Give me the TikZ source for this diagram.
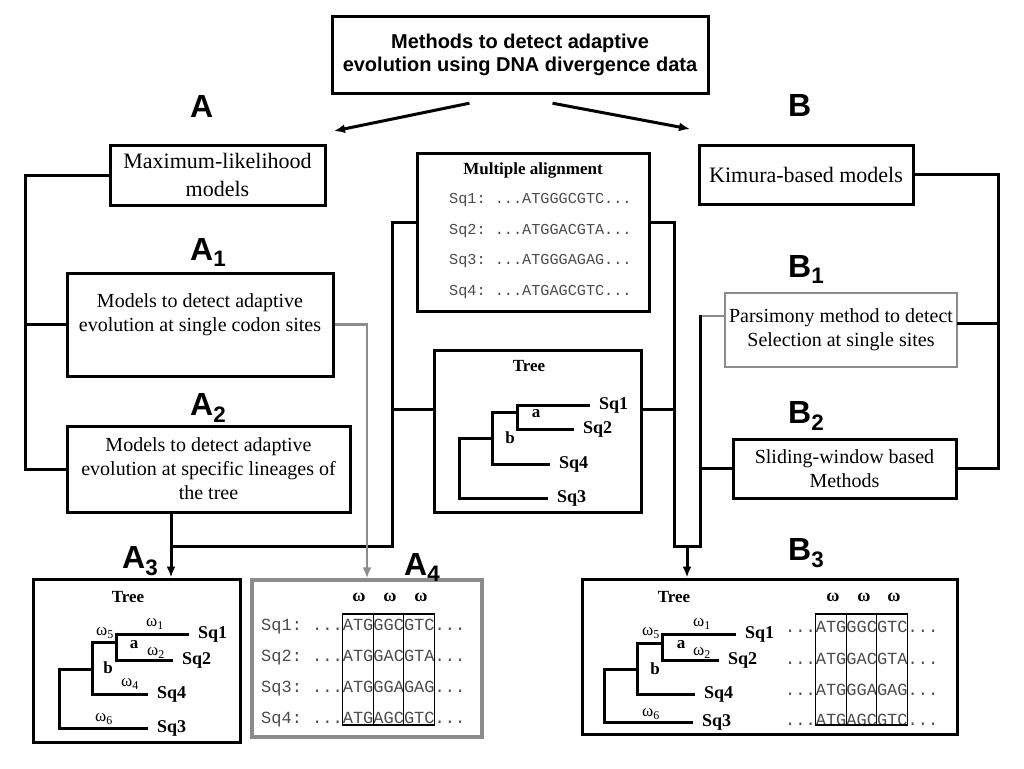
\documentclass[tikz,border=0pt]{standalone}
\usepackage{fontspec}
\setmainfont{Liberation Serif}
\setsansfont{Liberation Sans}
\setmonofont{Liberation Mono}
\usetikzlibrary{positioning,arrows.meta}

\begin{document}
\begin{tikzpicture}[x=1pt, y=-1pt, >={Latex[length=11pt,width=9pt]},
        boxed/.style={draw, line width=3pt, align=center, inner sep=2pt, font=\fontsize{20}{24}\selectfont},
        grayboxed/.style={boxed, draw=black!45},
        letter/.style={inner sep=0pt, anchor=base west, font=\sffamily\bfseries\fontsize{32}{32}\selectfont},
        wire/.style={line width=3pt, line cap=rect},
        graywire/.style={line width=2.5pt, draw=black!45},
        seq/.style={inner sep=0pt, anchor=west, text=black!70, font=\ttfamily\fontsize{17}{17}\selectfont},
        smallseq/.style={seq, font=\ttfamily\fontsize{15.2}{15.2}\selectfont},
        leaf/.style={inner sep=0pt, outer sep=9pt, anchor=west, font=\bfseries\fontsize{18}{18}\selectfont},
        twig/.style={line width=3pt},
        omlabel/.style={inner sep=0pt, font=\fontsize{17}{17}\selectfont},
        treetitle/.style={inner sep=0pt, font=\bfseries\fontsize{17}{17}\selectfont},
        codon/.style={draw, line width=1.2pt}]
        \path[fill=white, use as bounding box] (0,0) rectangle (1024,768);

        % top of the chart
        \node[boxed, font=\sffamily\bfseries\fontsize{20}{23}\selectfont, minimum width=376, minimum height=76] (title) at (520,55) {Methods to detect adaptive\\evolution using DNA divergence data};
        \node[letter] (la) at (190,117) {A};
        \node[letter] (lb) at (788,116) {B};
        \coordinate (ta) at (334,131);
        \coordinate (tb) at (690,129);
        \draw[wire, ->] ([shift={(-52,9)}]title.south) -- (ta);
        \draw[wire, ->] ([shift={(34,9)}]title.south) -- (tb);

        % left branch
        \node[boxed, font=\fontsize{22}{28}\selectfont, minimum width=215, minimum height=60] (ml) at (217.5,175) {Maximum-likelihood\\models};
        \node[letter] (la1) at (190,260) {A\textsubscript{1}};
        \node[boxed, minimum width=266, minimum height=103] (a1) at (200,324.5) {Models to detect adaptive\\evolution at single codon sites\\~};
        \node[letter] (la2) at (190,415) {A\textsubscript{2}};
        \node[boxed, minimum width=283, minimum height=86] (a2) at (208.5,469) {Models to detect adaptive\\evolution at specific lineages of\\the tree};

        % right branch
        \node[boxed, font=\fontsize{22}{28}\selectfont, minimum width=214, minimum height=59] (kim) at (806,174.5) {Kimura-based models};
        \node[letter] (lb1) at (788,277) {B\textsubscript{1}};
        \node[grayboxed, line width=2.5pt, minimum width=232, minimum height=74] (b1) at (841,330) {Parsimony method to detect\\Selection at single sites};
        \node[letter] (lb2) at (788,423) {B\textsubscript{2}};
        \node[boxed, minimum width=223, minimum height=59] (b2) at (844.5,468.5) {Sliding-window based\\Methods};

        % the data in the middle
        \node[boxed, minimum width=232, minimum height=158] (align) at (533,232) {};
        \node[inner sep=0pt, font=\bfseries\fontsize{17}{17}\selectfont] (aligntitle) at (533,170) {Multiple alignment};
        \node[smallseq] (m1) at (449,200) {Sq1: ...ATGGGCGTC...};
        \node[smallseq] (m2) at (449,231) {Sq2: ...ATGGACGTA...};
        \node[smallseq] (m3) at (449,261) {Sq3: ...ATGGGAGAG...};
        \node[smallseq] (m4) at (449,292) {Sq4: ...ATGAGCGTC...};

        \node[boxed, minimum width=207, minimum height=162] (ctree) at (537.5,431) {};
        \node[treetitle] (ctitle) at (529,366) {Tree};
        \node[leaf] (cs1) at (590,405) {Sq1};
        \node[leaf] (cs2) at (574,429) {Sq2};
        \node[leaf] (cs4) at (550,464) {Sq4};
        \node[leaf] (cs3) at (548,498) {Sq3};
        \coordinate (ca) at (517,412);
        \coordinate (cb) at (492,438);
        \coordinate (co) at (459,438);
        \draw[twig] (cs1.west) -| (cs2.west -| ca) -- (cs2.west);
        \draw[twig] (ca) -- (ca -| cb) |- (cs4.west);
        \draw[twig] (cb) -- (co) |- (cs3.west);
        \node[treetitle] (cna) at (536,414) {a};
        \node[treetitle] (cnb) at (510,438) {b};

        % bottom panels
        \node[boxed, minimum width=207, minimum height=163] (a3) at (136.5,660.5) {};
        \node[letter] (la3) at (122,568) {A\textsubscript{3}};
        \node[treetitle] (a3title) at (128,597) {Tree};
        \node[leaf] (a3s1) at (189,634) {Sq1};
        \node[leaf] (a3s2) at (173,660) {Sq2};
        \node[leaf] (a3s4) at (148,694) {Sq4};
        \node[leaf] (a3s3) at (148,728) {Sq3};
        \coordinate (a3a) at (116,642);
        \coordinate (a3b) at (92,669);
        \coordinate (a3o) at (59,669);
        \draw[twig] (a3s1.west) -| (a3s2.west -| a3a) -- (a3s2.west);
        \draw[twig] (a3a) -- (a3a -| a3b) |- (a3s4.west);
        \draw[twig] (a3b) -- (a3o) |- (a3s3.west);
        \node[treetitle] (a3na) at (134,645) {a};
        \node[treetitle] (a3nb) at (108,668) {b};
        \node[omlabel] (a3w1) at (155,624) {ω\textsubscript{1}};
        \node[omlabel] (a3w2) at (156,653) {ω\textsubscript{2}};
        \node[omlabel] (a3w5) at (105,633) {ω\textsubscript{5}};
        \node[omlabel] (a3w4) at (130,684) {ω\textsubscript{4}};
        \node[omlabel] (a3w6) at (104,719) {ω\textsubscript{6}};

        \node[grayboxed, line width=3.5pt, minimum width=230, minimum height=157] (a4) at (367,658.5) {};
        \node[letter] (la4) at (404,575) {A\textsubscript{4}};
        \node[treetitle, font=\bfseries\fontsize{18}{18}\selectfont] (a4w1) at (359,597) {ω};
        \node[treetitle, font=\bfseries\fontsize{18}{18}\selectfont] (a4w2) at (390,597) {ω};
        \node[treetitle, font=\bfseries\fontsize{18}{18}\selectfont] (a4w3) at (421,597) {ω};
        \node[seq] (r1) at (261,627) {Sq1: ...ATGGGCGTC...};
        \node[seq] (r2) at (261,658) {Sq2: ...ATGGACGTA...};
        \node[seq] (r3) at (261,689) {Sq3: ...ATGGGAGAG...};
        \node[seq] (r4) at (261,720) {Sq4: ...ATGAGCGTC...};
        \draw[codon] (342.6,614) rectangle (373.2,725);
        \draw[codon] (373.2,614) rectangle (403.8,725);
        \draw[codon] (403.8,614) rectangle (434.4,725);

        \node[boxed, minimum width=375, minimum height=155] (b3) at (769.5,656.5) {};
        \node[letter] (lb3) at (788,560) {B\textsubscript{3}};
        \node[treetitle] (b3title) at (674,597) {Tree};
        \node[leaf] (b3s1) at (736,634) {Sq1};
        \node[leaf] (b3s2) at (719,660) {Sq2};
        \node[leaf] (b3s4) at (695,694) {Sq4};
        \node[leaf] (b3s3) at (693,722) {Sq3};
        \coordinate (b3a) at (662,643);
        \coordinate (b3b) at (637,669);
        \coordinate (b3o) at (604,669);
        \draw[twig] (b3s1.west) -| (b3s2.west -| b3a) -- (b3s2.west);
        \draw[twig] (b3a) -- (b3a -| b3b) |- (b3s4.west);
        \draw[twig] (b3b) -- (b3o) |- (b3s3.west);
        \node[treetitle] (b3na) at (681,645) {a};
        \node[treetitle] (b3nb) at (655,669) {b};
        \node[omlabel] (b3w1) at (702,624) {ω\textsubscript{1}};
        \node[omlabel] (b3w2) at (702,653) {ω\textsubscript{2}};
        \node[omlabel] (b3w5) at (651,633) {ω\textsubscript{5}};
        \node[omlabel] (b3w6) at (651,714) {ω\textsubscript{6}};
        \node[treetitle, font=\bfseries\fontsize{18}{18}\selectfont] (b3x1) at (833,597) {ω};
        \node[treetitle, font=\bfseries\fontsize{18}{18}\selectfont] (b3x2) at (864,597) {ω};
        \node[treetitle, font=\bfseries\fontsize{18}{18}\selectfont] (b3x3) at (894,597) {ω};
        \node[seq] (s1) at (785,627) {...ATGGGCGTC...};
        \node[seq] (s2) at (785,659) {...ATGGACGTA...};
        \node[seq] (s3) at (785,690) {...ATGGGAGAG...};
        \node[seq] (s4) at (785,720) {...ATGAGCGTC...};
        \draw[codon] (815.6,614) rectangle (846.2,725);
        \draw[codon] (846.2,614) rectangle (876.8,725);
        \draw[codon] (876.8,614) rectangle (907.4,725);

        % connectors
        \coordinate (lbus) at (25,0);
        \coordinate (rbus) at (998,0);
        \draw[wire] (ml.west) -| (lbus |- a2.west) -- (a2.west);
        \draw[wire] (a1.west) -- (a1.west -| lbus);
        \draw[wire] (kim.east) -| (rbus |- b2.east) -- (b2.east);
        \draw[wire] ([yshift=7pt]b1.east) -- ([yshift=7pt]b1.east -| rbus);

        \coordinate (cl) at (392,546);
        \coordinate (aj) at (171,546);
        \draw[wire] ([yshift=10pt]align.west) -| (cl) -- (aj);
        \draw[wire] ([yshift=22pt]ctree.west) -- ([yshift=22pt]ctree.west -| cl);
        \draw[wire, ->] (a2.south -| aj) -- (a3.north -| aj);

        \coordinate (cr) at (674,546);
        \coordinate (bj) at (700,546);
        \coordinate (bm) at (687,546);
        \draw[wire] ([yshift=10pt]align.east) -| (cr) -- (bj);
        \draw[wire] ([yshift=22pt]ctree.east) -- ([yshift=22pt]ctree.east -| cr);
        \draw[graywire] ([yshift=14pt]b1.west) -- ([yshift=14pt]b1.west -| bj);
        \draw[wire] ([yshift=14pt]b1.west -| bj) -- (bj);
        \draw[wire] (b2.west) -- (b2.west -| bj);
        \draw[wire, ->] (bm) -- (bm |- b3.north);

        \draw[graywire, ->] (a1.east) -| (a4.north);
    \end{tikzpicture}
\end{document}
